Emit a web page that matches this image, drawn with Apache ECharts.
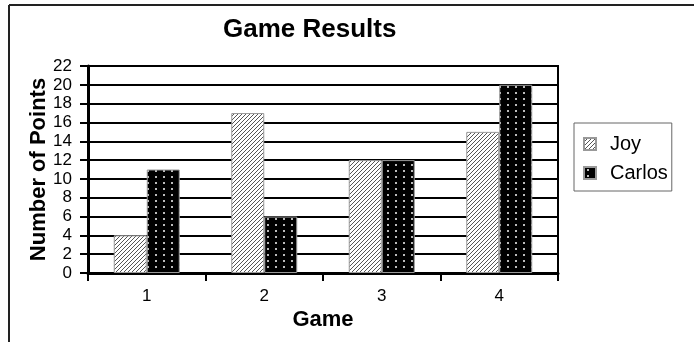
<!DOCTYPE html>
<html>
<head>
<meta charset="utf-8">
<script src="https://cdn.jsdelivr.net/npm/echarts@6/dist/echarts.min.js"></script>
<style>
  body { margin: 0; background: #fff; }
  #chart { width: 694px; height: 342px; }
</style>
</head>
<body>
<div id="chart"></div>
<script>
// data
const games = ['1', '2', '3', '4'];
const joy = [4, 17, 12, 15];
const carlos = [11, 6, 12, 20];
const yTicks = { min: 0, max: 22, step: 2 };

const FONT = '"Liberation Sans", Arial, sans-serif';

// diagonal hatch for Joy
function hatch() {
  const c = document.createElement('canvas');
  c.width = 4; c.height = 4;
  const ctx = c.getContext('2d');
  ctx.fillStyle = '#fff';
  ctx.fillRect(0, 0, 4, 4);
  ctx.strokeStyle = '#555';
  ctx.lineWidth = 1;
  ctx.beginPath();
  ctx.moveTo(0, 4); ctx.lineTo(4, 0);
  ctx.moveTo(-1, 1); ctx.lineTo(1, -1);
  ctx.moveTo(3, 5); ctx.lineTo(5, 3);
  ctx.stroke();
  return { image: c, repeat: 'repeat' };
}

// black with light dots for Carlos
function dots() {
  const c = document.createElement('canvas');
  c.width = 8; c.height = 6;
  const ctx = c.getContext('2d');
  ctx.fillStyle = '#000';
  ctx.fillRect(0, 0, 8, 6);
  ctx.fillStyle = '#bbb';
  ctx.fillRect(3, 2, 2, 2);
  return { image: c, repeat: 'repeat' };
}

const chart = echarts.init(document.getElementById('chart'));

const option = {
  animation: false,
  backgroundColor: '#fff',
  textStyle: { fontFamily: FONT, color: '#000' },
  title: {
    text: 'Game Results',
    left: 223,
    top: 17,
    padding: 0,
    textStyle: { fontFamily: FONT, fontSize: 26, fontWeight: 'bold', color: '#000' }
  },
  legend: {
    orient: 'vertical',
    left: 574,
    top: 123,
    padding: [11, 4, 8, 9],
    itemGap: 9,
    itemWidth: 12,
    itemHeight: 12,
    borderColor: '#666',
    borderWidth: 1,
    icon: 'rect',
    textStyle: { fontFamily: FONT, fontSize: 20, color: '#000', padding: [0, 0, 0, 9] },
    data: ['Joy', 'Carlos']
  },
  graphic: [
    // outer frame (only left and top show in the crop)
    { type: 'line', shape: { x1: 9, y1: 5, x2: 694, y2: 5 }, style: { stroke: '#222', lineWidth: 2 } },
    { type: 'line', shape: { x1: 9, y1: 5, x2: 9, y2: 342 }, style: { stroke: '#222', lineWidth: 2 } }
  ],
  grid: {
    left: 88,
    right: 136,
    top: 66,
    bottom: 69,
    show: true,
    borderColor: '#000',
    borderWidth: 2
  },
  xAxis: {
    type: 'category',
    data: games,
    name: 'Game',
    nameLocation: 'middle',
    nameGap: 36,
    nameMoveOverlap: false,
    nameTextStyle: { fontFamily: FONT, fontSize: 22, fontWeight: 'bold', color: '#000' },
    axisLine: { lineStyle: { color: '#000', width: 3 } },
    axisTick: { show: true, length: 8, lineStyle: { color: '#000', width: 2 } },
    axisLabel: { fontFamily: FONT, fontSize: 17, color: '#000', margin: 15 }
  },
  yAxis: {
    type: 'value',
    min: yTicks.min,
    max: yTicks.max,
    interval: yTicks.step,
    name: 'Number of Points',
    nameLocation: 'middle',
    nameRotate: 90,
    nameGap: 38,
    nameMoveOverlap: false,
    nameTextStyle: { fontFamily: FONT, fontSize: 22, fontWeight: 'bold', color: '#000' },
    axisLine: { show: true, lineStyle: { color: '#000', width: 3 } },
    axisTick: { show: true, length: 8, lineStyle: { color: '#000', width: 2 } },
    axisLabel: { fontFamily: FONT, fontSize: 17, color: '#000', margin: 16 },
    splitLine: { show: true, lineStyle: { color: '#000', width: 2 } }
  },
  series: [
    {
      name: 'Joy',
      type: 'bar',
      data: joy,
      barWidth: 33,
      barGap: '0%',
      itemStyle: { color: hatch(), borderColor: '#999', borderWidth: 1 }
    },
    {
      name: 'Carlos',
      type: 'bar',
      data: carlos,
      barWidth: 33,
      barGap: '0%',
      itemStyle: { color: dots(), borderColor: '#999', borderWidth: 1 }
    }
  ]
};

chart.setOption(option);
</script>
</body>
</html>
